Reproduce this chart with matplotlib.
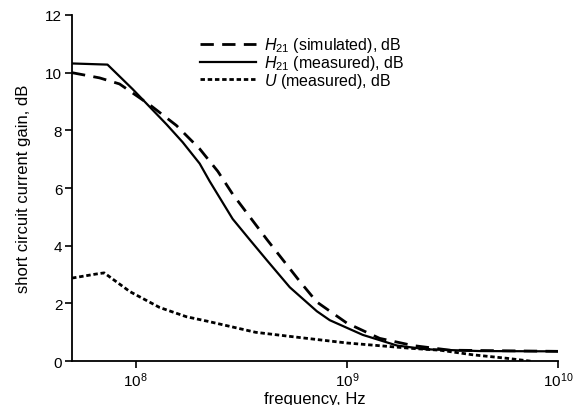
import matplotlib
matplotlib.use("Agg")
import matplotlib.pyplot as plt
import matplotlib.ticker as ticker

plt.rcParams["font.family"] = ["Liberation Sans", "DejaVu Sans"]
plt.rcParams["mathtext.fontset"] = "custom"
plt.rcParams["mathtext.rm"] = "Liberation Sans"
plt.rcParams["mathtext.it"] = "Liberation Sans:italic"

# ── Data ────────────────────────────────────────────────────────────────────

f_meas = [5.0e7, 7.36e7, 9.68e7, 1.40e8, 1.67e8, 2.01e8, 2.24e8, 2.88e8,
          3.47e8, 4.18e8, 5.37e8, 7.21e8, 8.30e8, 1.19e9, 1.73e9, 2.39e9,
          4.27e9, 1.0e10]
h21_meas = [10.32, 10.28, 9.43, 8.21, 7.59, 6.85, 6.24, 4.93,
            4.21, 3.50, 2.56, 1.73, 1.42, 0.91, 0.54, 0.41,
            0.35, 0.34]

f_sim = [5.0e7, 6.75e7, 8.39e7, 1.165e8, 1.56e8, 2.01e8, 2.45e8, 2.88e8,
         4.18e8, 5.98e8, 7.21e8, 1.0e9, 1.43e9, 2.06e9, 3.08e9, 1.0e10]
h21_sim = [10.0, 9.82, 9.61, 8.89, 8.17, 7.36, 6.58, 5.79,
           4.22, 2.77, 2.05, 1.32, 0.79, 0.54, 0.38, 0.34]

f_u = [5.0e7, 6.5e7, 7.1e7, 9.4e7, 1.30e8, 1.74e8, 2.2e8, 3.7e8,
       5.5e8, 1.0e9, 2.05e9, 2.76e9, 3.95e9, 5.7e9, 7.4e9]
u_meas = [2.88, 3.02, 3.06, 2.41, 1.86, 1.54, 1.38, 1.00,
          0.85, 0.63, 0.44, 0.38, 0.22, 0.10, 0.0]

x_ticks = [1e8, 1e9, 1e10]
y_ticks = [0, 2, 4, 6, 8, 10, 12]

# ── Plot ─────────────────────────────────────────────────────────────────────

fig = plt.figure(figsize=(5.73, 4.06), dpi=100)
ax = fig.add_axes([0.1257, 0.108, 0.8483, 0.8526])

ax.plot(f_sim, h21_sim, color="black", linewidth=2.0, linestyle=(0, (4.8, 3)),
        label="$H_{21}$ (simulated), dB")
ax.plot(f_meas, h21_meas, color="black", linewidth=1.6, linestyle="-",
        label="$H_{21}$ (measured), dB")
ax.plot(f_u, u_meas, color="black", linewidth=2.0, linestyle=(0, (1.6, 1.0)),
        label="$U$ (measured), dB")

ax.set_xscale("log")
ax.set_xlim(5e7, 1e10)
ax.set_ylim(0, 12)
ax.set_xticks(x_ticks)
ax.xaxis.set_minor_locator(ticker.NullLocator())
ax.set_yticks(y_ticks)

for side in ("top", "right"):
    ax.spines[side].set_visible(False)
for side in ("left", "bottom"):
    ax.spines[side].set_linewidth(1.3)
ax.tick_params(axis="both", direction="out", length=5, width=1.2,
               labelsize=11, pad=2)

ax.set_xlabel("frequency, Hz", fontsize=12, labelpad=1)
ax.set_ylabel("short circuit current gain, dB", fontsize=12, labelpad=10)

ax.legend(loc="upper left", bbox_to_anchor=(0.335, 0.93),
          bbox_transform=fig.transFigure, frameon=False, fontsize=11.5,
          handlelength=3.5, handletextpad=0.5, labelspacing=-0.08,
          borderpad=0)

plt.savefig("out.png", dpi=100)
